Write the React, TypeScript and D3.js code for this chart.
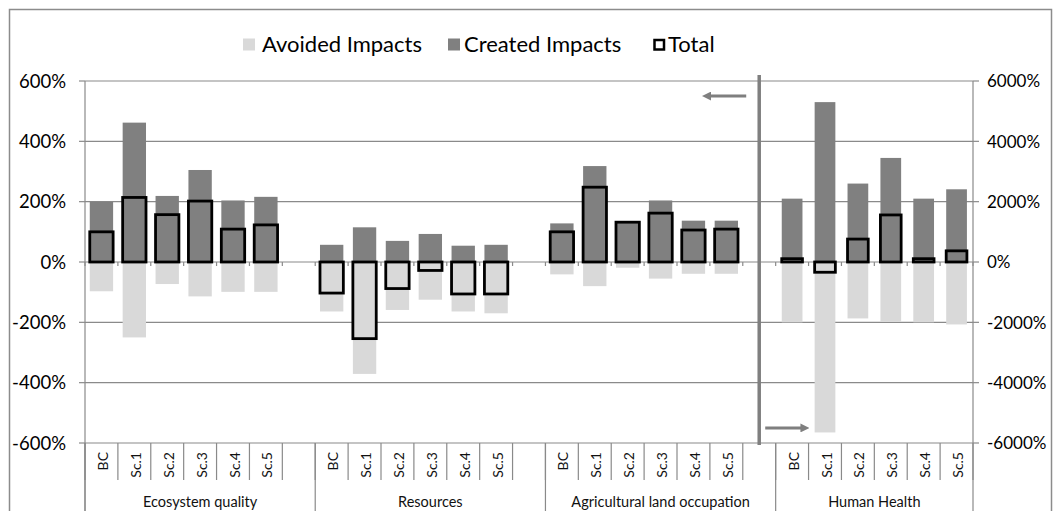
import React from "react";
import * as d3 from "d3";

const groups = ["Ecosystem quality", "Resources", "Agricultural land occupation", "Human Health"];
const scenarios = ["BC", "Sc.1", "Sc.2", "Sc.3", "Sc.4", "Sc.5"];

const ecoCreated = [200, 462, 219, 305, 204, 216];
const ecoAvoided = [-97, -250, -73, -114, -99, -99];
const ecoTotal = [100, 214, 157, 202, 109, 123];

const resCreated = [57, 115, 70, 93, 54, 57];
const resAvoided = [-164, -371, -159, -125, -164, -170];
const resTotal = [-103, -254, -88, -28, -106, -106];

const agrCreated = [128, 318, 134, 204, 137, 137];
const agrAvoided = [-41, -80, -19, -55, -39, -39];
const agrTotal = [100, 248, 132, 162, 106, 109];

// Human Health is plotted on the secondary (right) axis
const hhCreated = [2100, 5300, 2600, 3450, 2100, 2410];
const hhAvoided = [-2000, -5650, -1870, -1980, -2000, -2070];
const hhTotal = [110, -340, 760, 1560, 110, 370];

const leftTicks = [600, 400, 200, 0, -200, -400, -600];
const rightTicks = [6000, 4000, 2000, 0, -2000, -4000, -6000];

const legendItems = ["Avoided Impacts", "Created Impacts", "Total"];

const created = [ecoCreated, resCreated, agrCreated, hhCreated];
const avoided = [ecoAvoided, resAvoided, agrAvoided, hhAvoided];
const totals = [ecoTotal, resTotal, agrTotal, hhTotal];

const W = 1061, H = 511;
const X0 = 85, X1 = 973, YT = 81, YB = 443;
const FONT = "Lato, 'Open Sans', sans-serif";
const C_AVOID = "#d9d9d9", C_CREATE = "#808080", C_GRID = "#8a8a8a";

export default function App() {
  const slots: { key: string; g: number; s: number }[] = [];
  groups.forEach((g, gi) => {
    scenarios.forEach((s, si) => slots.push({ key: `${gi}|${si}`, g: gi, s: si }));
    if (gi < groups.length - 1) slots.push({ key: `${gi}|gap`, g: gi, s: -1 });
  });
  const x = d3.scaleBand<string>().domain(slots.map((d) => d.key)).range([X0, X1]).paddingInner(0).paddingOuter(0);
  const bw = x.bandwidth();
  const yL = d3.scaleLinear().domain([-600, 600]).range([YB, YT]);
  const yR = d3.scaleLinear().domain([-6000, 6000]).range([YB, YT]);

  const bars: any[] = [];
  slots.forEach((d) => {
    if (d.s < 0) return;
    const y = d.g === 3 ? yR : yL;
    const w = bw * (d.g === 3 ? 0.63 : 0.71);
    const cx = (x(d.key) as number) + bw / 2;
    bars.push({
      key: d.key, cx, w, y,
      a: avoided[d.g][d.s], c: created[d.g][d.s], t: totals[d.g][d.s],
    });
  });

  const groupSpans = groups.map((g, gi) => {
    const keys = slots.filter((d) => d.g === gi).map((d) => d.key);
    const x0 = x(keys[0]) as number;
    const x1 = (x(keys[keys.length - 1]) as number) + bw;
    return { g, x0, x1 };
  });

  const sepX = (x(`2|gap`) as number) + bw / 2;
  const boundaries = slots.map((d) => x(d.key) as number).concat([X1]);

  const legendX = [243, 448, 653];

  return (
    <svg width={W} height={H} style={{ position: "absolute", left: 0, top: 0, background: "#fff" }} fontFamily={FONT}>
      <defs>
        <marker id="ah" viewBox="0 0 10 10" refX="2" refY="5" markerWidth="3" markerHeight="3" orient="auto">
          <path d="M0,0 L10,5 L0,10 z" fill="#7f7f7f" />
        </marker>
      </defs>
      <rect x={9.5} y={9.5} width={1042} height={520} fill="#fff" stroke="#8c8c8c" strokeWidth={1.5} />

      {/* gridlines */}
      {leftTicks.map((t) => (
        <line key={t} x1={X0} x2={X1} y1={yL(t)} y2={yL(t)} stroke={C_GRID} strokeWidth={1.2} />
      ))}
      {/* left axis */}
      <line x1={X0} x2={X0} y1={YT} y2={H} stroke={C_GRID} strokeWidth={1.2} />
      {leftTicks.map((t) => (
        <line key={"lt" + t} x1={X0 - 6} x2={X0} y1={yL(t)} y2={yL(t)} stroke={C_GRID} strokeWidth={1.2} />
      ))}
      {leftTicks.map((t) => (
        <text key={"ll" + t} x={66} y={yL(t) + 2} textAnchor="end" dominantBaseline="middle" fontSize={18.5} fill="#000">
          {`${t}%`}
        </text>
      ))}
      {/* right axis */}
      <line x1={X1} x2={X1} y1={YT} y2={H} stroke={C_GRID} strokeWidth={1.2} />
      {rightTicks.map((t) => (
        <line key={"rt" + t} x1={X1} x2={X1 + 6} y1={yR(t)} y2={yR(t)} stroke={C_GRID} strokeWidth={1.2} />
      ))}
      {rightTicks.map((t) => (
        <text key={"rl" + t} x={987} y={yR(t) + 2} textAnchor="start" dominantBaseline="middle" fontSize={17} fill="#000">
          {`${t}%`}
        </text>
      ))}

      {/* tick marks on zero line */}
      {boundaries.map((b, i) => (
        <line key={"zt" + i} x1={b} x2={b} y1={yL(0)} y2={yL(0) + 4} stroke={C_GRID} strokeWidth={1.2} />
      ))}

      {/* bars */}
      {bars.map((b) => (
        <rect key={"a" + b.key} x={b.cx - b.w / 2} width={b.w} y={b.y(0)} height={b.y(b.a) - b.y(0)} fill={C_AVOID} />
      ))}
      {bars.map((b) => (
        <rect key={"c" + b.key} x={b.cx - b.w / 2} width={b.w} y={b.y(b.c)} height={b.y(0) - b.y(b.c)} fill={C_CREATE} />
      ))}
      {bars.map((b) => (
        <rect key={"t" + b.key} x={b.cx - b.w / 2} width={b.w}
          y={Math.min(b.y(0), b.y(b.t))} height={Math.abs(b.y(0) - b.y(b.t))}
          fill="none" stroke="#000" strokeWidth={2.8} />
      ))}

      {/* separator and arrows */}
      <line x1={sepX} x2={sepX} y1={YT - 6} y2={YB + 2} stroke="#7f7f7f" strokeWidth={3.5} />
      <line x1={sepX - 13} x2={sepX - 50} y1={yL(550)} y2={yL(550)} stroke="#7f7f7f" strokeWidth={3} markerEnd="url(#ah)" />
      <line x1={sepX + 6} x2={sepX + 43} y1={yL(-550)} y2={yL(-550)} stroke="#7f7f7f" strokeWidth={3} markerEnd="url(#ah)" />

      {/* category axis */}
      {boundaries.map((b, i) => (
        <line key={"cb" + i} x1={b} x2={b} y1={YB} y2={YB + 37} stroke={C_GRID} strokeWidth={1.2} />
      ))}
      {groupSpans.map((s, i) => (
        <line key={"gb" + i} x1={s.x0} x2={s.x0} y1={YB} y2={H} stroke={C_GRID} strokeWidth={1.2} />
      ))}
      {slots.filter((d) => d.s >= 0).map((d) => {
        const cx = (x(d.key) as number) + bw / 2 + 1;
        return (
          <text key={"cl" + d.key} transform={`translate(${cx},452) rotate(-90)`} textAnchor="end"
            dominantBaseline="central" fontSize={14} fill="#111">
            {scenarios[d.s]}
          </text>
        );
      })}
      {groupSpans.map((s) => (
        <text key={"gl" + s.g} x={(s.x0 + s.x1) / 2} y={507} textAnchor="middle" fontSize={14.5} fill="#111">
          {s.g}
        </text>
      ))}

      {/* legend */}
      <rect x={legendX[0]} y={38.5} width={12} height={12} fill={C_AVOID} />
      <text x={legendX[0] + 19} y={51.5} fontSize={22} fill="#000">{legendItems[0]}</text>
      <rect x={legendX[1]} y={38.5} width={12} height={12} fill={C_CREATE} />
      <text x={legendX[1] + 16} y={51.5} fontSize={22} fill="#000">{legendItems[1]}</text>
      <rect x={legendX[2] + 1.5} y={40} width={9.5} height={9.5} fill="#fff" stroke="#000" strokeWidth={2.5} />
      <text x={legendX[2] + 15} y={51.5} fontSize={22} fill="#000">{legendItems[2]}</text>
    </svg>
  );
}
